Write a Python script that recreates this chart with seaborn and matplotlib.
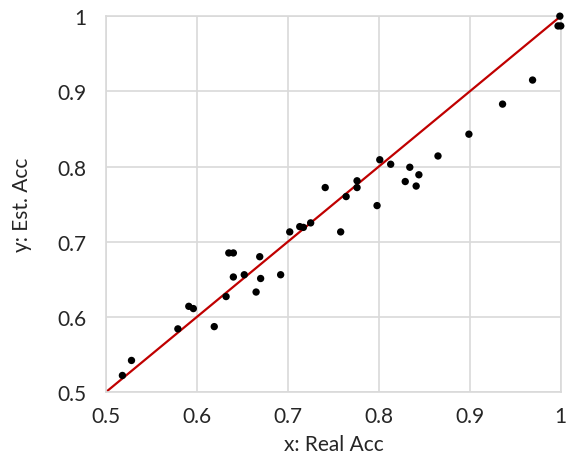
import matplotlib
matplotlib.use("Agg")
import matplotlib.pyplot as plt
import seaborn as sns
import numpy as np
import pandas as pd

# Values
real_acc = [0.518, 0.528, 0.579, 0.591, 0.596, 0.619, 0.632, 0.635, 0.640, 0.640,
            0.652, 0.665, 0.669, 0.670, 0.692, 0.702, 0.713, 0.717, 0.725, 0.741,
            0.758, 0.764, 0.776, 0.776, 0.798, 0.801, 0.813, 0.829, 0.834, 0.841,
            0.844, 0.865, 0.899, 0.936, 0.969, 0.999, 0.997, 1.000]
est_acc = [0.522, 0.542, 0.584, 0.614, 0.611, 0.587, 0.627, 0.685, 0.685, 0.653,
           0.656, 0.633, 0.680, 0.651, 0.656, 0.713, 0.720, 0.719, 0.725, 0.772,
           0.713, 0.760, 0.781, 0.772, 0.748, 0.809, 0.803, 0.780, 0.799, 0.774,
           0.789, 0.814, 0.843, 0.883, 0.915, 1.000, 0.987, 0.987]
ref_line = [0.5, 1.0]
ticks = [0.5, 0.6, 0.7, 0.8, 0.9, 1.0]
tick_labels = ["0.5", "0.6", "0.7", "0.8", "0.9", "1"]

df = pd.DataFrame({"real": real_acc, "est": est_acc})
line_df = pd.DataFrame({"x": ref_line, "y": ref_line})

sns.set_style("white")
plt.rcParams['font.family'] = ['Lato', 'DejaVu Sans']

fig = plt.figure(figsize=(5.67, 4.64), dpi=100)
ax = fig.add_axes([0.187, 0.153, 0.802, 0.810])

sns.lineplot(data=line_df, x="x", y="y", color="#c00000", lw=1.6, ax=ax, zorder=2)
sns.scatterplot(data=df, x="real", y="est", color="black", s=28, edgecolor="none", ax=ax, zorder=3)
for c in ax.collections:
    c.set_clip_on(False)

ax.set_xlim(0.5, 1.0)
ax.set_ylim(0.5, 1.0)
ax.set_xticks(ticks)
ax.set_yticks(ticks)
ax.set_xticklabels(tick_labels)
ax.set_yticklabels(tick_labels)
ax.tick_params(axis="both", length=0, labelsize=15, colors="#262626")
ax.tick_params(axis="x", pad=10)
ax.tick_params(axis="y", pad=14)
ax.grid(True, color="#d9d9d9", lw=1.2)
for s in ax.spines.values():
    s.set_color("#d9d9d9")
    s.set_linewidth(1.2)
ax.set_xlabel("x: Real Acc", fontsize=15, color="#262626", labelpad=6)
ax.set_ylabel("y: Est. Acc", fontsize=15, color="#262626", labelpad=18)

fig.savefig("out.png", dpi=100)
